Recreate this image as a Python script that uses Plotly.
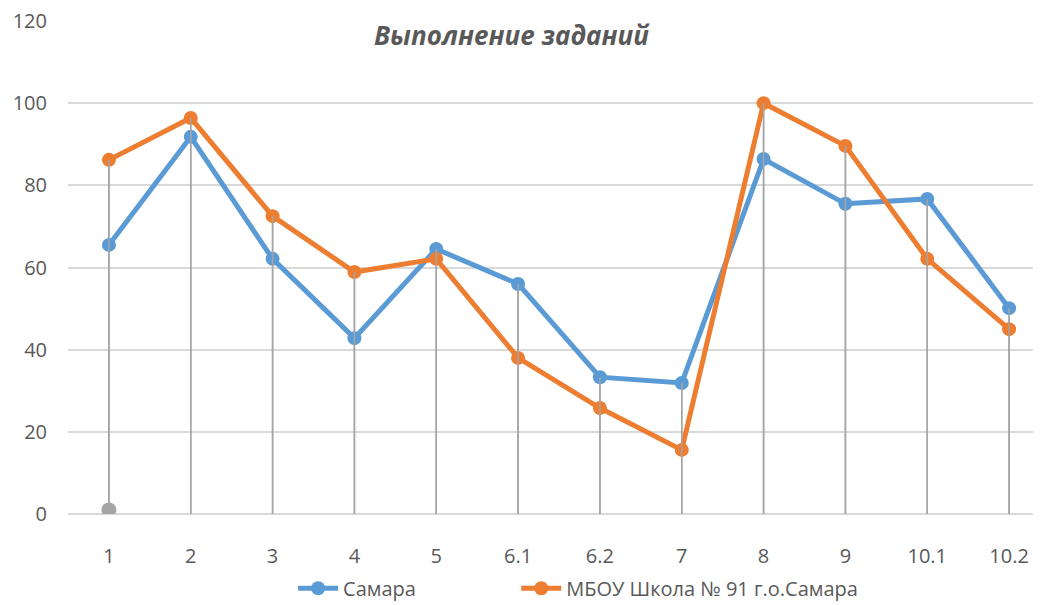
import plotly.graph_objects as go

categories = ["1", "2", "3", "4", "5", "6.1", "6.2", "7", "8", "9", "10.1", "10.2"]
samara = [65.5, 91.8, 62.1, 42.8, 64.5, 56.0, 33.3, 31.9, 86.4, 75.5, 76.7, 50.1]
school = [86.2, 96.4, 72.5, 58.9, 62.1, 38.0, 25.8, 15.6, 100.0, 89.6, 62.1, 45.0]
third_cats = ["1"]
third_vals = [1.0]

name_a = "Самара"
name_b = "МБОУ Школа № 91 г.о.Самара"
title_text = "Выполнение заданий"

# drop lines from the highest point of each category down to the axis
drop_x, drop_y = [], []
for c, a, b in zip(categories, samara, school):
    drop_x += [c, c, None]
    drop_y += [max(a, b), 0, None]

font_family = "Open Sans, Liberation Sans, sans-serif"

fig = go.Figure()
fig.add_trace(go.Scatter(x=drop_x, y=drop_y, mode="lines",
                         line=dict(color="#A5A5A5", width=1.5), showlegend=False,
                         hoverinfo="skip"))
fig.add_trace(go.Scatter(x=third_cats, y=third_vals, mode="markers",
                         marker=dict(color="#A5A5A5", size=15), showlegend=False,
                         hoverinfo="skip"))
fig.add_trace(go.Scatter(x=categories, y=samara, name=name_a, mode="lines+markers",
                         line=dict(color="#5B9BD5", width=5),
                         marker=dict(color="#5B9BD5", size=14), legend="legend"))
fig.add_trace(go.Scatter(x=categories, y=school, name=name_b, mode="lines+markers",
                         line=dict(color="#ED7D31", width=5),
                         marker=dict(color="#ED7D31", size=14), legend="legend2"))
fig.add_trace(go.Scatter(x=drop_x, y=drop_y, mode="lines",
                         line=dict(color="#A5A5A5", width=1.5), showlegend=False,
                         hoverinfo="skip"))

leg_common = dict(orientation="h", xanchor="left", xref="container",
                  y=0.028, yanchor="middle", yref="container",
                  font=dict(size=20, color="#595959"), itemwidth=40,
                  bgcolor="rgba(0,0,0,0)")

fig.update_layout(
    width=1033, height=597,
    margin=dict(l=60, r=0, t=13, b=91),
    paper_bgcolor="white", plot_bgcolor="white",
    font=dict(family=font_family, size=20, color="#595959"),
    showlegend=True,
    legend=dict(x=0.276, **leg_common),
    legend2=dict(x=0.492, **leg_common),
    annotations=[dict(text="<b><i>" + title_text + "</i></b>", x=0.456, xref="paper",
                      y=0.972, yref="paper", showarrow=False, yanchor="middle",
                      font=dict(size=26, color="#595959", family=font_family))],
)
fig.update_xaxes(type="category", categoryorder="array", categoryarray=categories,
                 range=[-0.5, 11.39], showgrid=False, showline=False, zeroline=False,
                 automargin=False,
                 ticks="", ticklabelstandoff=28, tickfont=dict(size=20, color="#595959"))
fig.update_yaxes(range=[0, 120], dtick=20, tick0=0, showgrid=True, gridcolor="#D9D9D9",
                 gridwidth=1.5, ticklabeloverflow="allow",
                 zeroline=True, zerolinecolor="#D9D9D9", zerolinewidth=1.5, showline=False,
                 automargin=False,
                 ticks="", ticklabelstandoff=20, tickfont=dict(size=20, color="#595959"))

fig.write_html("out.html")
